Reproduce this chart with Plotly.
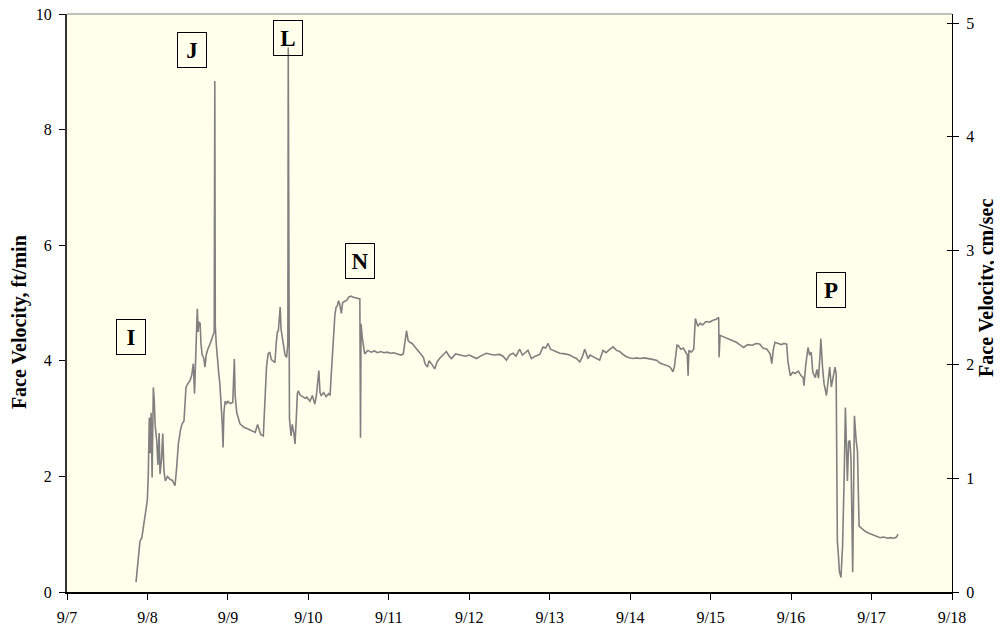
import plotly.graph_objects as go

# Time, day of September (fractional)
day = [7.858, 7.907, 7.93, 7.97, 7.998, 8.01, 8.023, 8.035, 8.045, 8.058, 8.065, 8.073, 8.085, 8.095,
       8.115, 8.13, 8.145, 8.156, 8.175, 8.19, 8.205, 8.222, 8.25, 8.28, 8.31, 8.33, 8.342, 8.36,
       8.384, 8.41, 8.43, 8.454, 8.479, 8.50, 8.53, 8.55, 8.57, 8.585, 8.60, 8.61, 8.62, 8.63, 8.64,
       8.655, 8.665, 8.68, 8.70, 8.715, 8.73, 8.75, 8.78, 8.81, 8.83, 8.837, 8.843, 8.855, 8.87,
       8.885, 8.90, 8.915, 8.93, 8.94, 8.95, 8.965, 8.985, 9.0, 9.03, 9.06, 9.07, 9.08, 9.09, 9.11,
       9.15, 9.20, 9.25, 9.30, 9.34, 9.358, 9.37, 9.39, 9.41, 9.44, 9.46, 9.48, 9.50, 9.52, 9.54,
       9.56, 9.585, 9.60, 9.615, 9.627, 9.64, 9.65, 9.66, 9.675, 9.69, 9.71, 9.73, 9.745, 9.75,
       9.755, 9.765, 9.785, 9.80, 9.82, 9.834, 9.85, 9.863, 9.875, 9.90, 9.93, 9.96, 9.98, 10.02,
       10.05, 10.08, 10.10, 10.115, 10.13, 10.145, 10.16, 10.19, 10.22, 10.25, 10.27, 10.28, 10.30,
       10.33, 10.345, 10.36, 10.375, 10.39, 10.41, 10.425, 10.45, 10.48, 10.50, 10.53, 10.56, 10.60,
       10.64, 10.648, 10.655, 10.67, 10.70, 10.74, 10.78, 10.82, 10.86, 10.90, 10.94, 10.98, 11.02,
       11.06, 11.10, 11.15, 11.18, 11.20, 11.22, 11.24, 11.26, 11.29, 11.32, 11.35, 11.40, 11.43,
       11.45, 11.48, 11.50, 11.53, 11.57, 11.60, 11.63, 11.68, 11.716, 11.75, 11.778, 11.83, 11.881,
       11.95, 12.0, 12.047, 12.09, 12.15, 12.213, 12.3, 12.379, 12.42, 12.462, 12.50, 12.544, 12.58,
       12.627, 12.66, 12.70, 12.73, 12.772, 12.82, 12.876, 12.917, 12.95, 12.979, 13.01, 13.04,
       13.08, 13.124, 13.19, 13.249, 13.30, 13.332, 13.373, 13.40, 13.435, 13.476, 13.50, 13.538,
       13.58, 13.621, 13.662, 13.70, 13.75, 13.787, 13.83, 13.87, 13.92, 13.953, 14.0, 14.035, 14.08,
       14.118, 14.18, 14.243, 14.29, 14.326, 14.37, 14.408, 14.45, 14.49, 14.51, 14.532, 14.55,
       14.582, 14.60, 14.63, 14.66, 14.69, 14.71, 14.72, 14.73, 14.76, 14.79, 14.81, 14.84, 14.87,
       14.90, 14.94, 14.99, 15.03, 15.07, 15.10, 15.105, 15.117, 15.15, 15.2, 15.25, 15.32, 15.36,
       15.41, 15.46, 15.52, 15.56, 15.61, 15.65, 15.70, 15.74, 15.76, 15.78, 15.80, 15.84, 15.88,
       15.91, 15.945, 15.96, 15.99, 16.02, 16.05, 16.09, 16.12, 16.15, 16.16, 16.18, 16.21, 16.23,
       16.25, 16.27, 16.30, 16.32, 16.34, 16.36, 16.37, 16.39, 16.41, 16.44, 16.46, 16.48, 16.50,
       16.52, 16.546, 16.56, 16.575, 16.59, 16.60, 16.62, 16.64, 16.66, 16.675, 16.70, 16.715, 16.73,
       16.745, 16.766, 16.787, 16.81, 16.825, 16.845, 16.88, 16.92, 16.96, 17.0, 17.05, 17.106,
       17.15, 17.2, 17.23, 17.28, 17.31, 17.33]

# Face velocity, ft/min
fpm = [0.17, 0.88, 0.94, 1.35, 1.58, 2.0, 3.02, 2.4, 3.1, 1.98, 3.2, 3.54, 3.3, 2.9,
       2.62, 2.2, 2.75, 2.04, 2.3, 2.74, 2.1, 1.92, 2.0, 1.95, 1.93, 1.87, 1.84, 2.1,
       2.56, 2.8, 2.91, 2.96, 3.54, 3.6, 3.66, 3.75, 3.95, 3.43, 3.9, 4.5, 4.9, 4.5, 4.67,
       4.65, 4.3, 4.1, 4.05, 3.89, 4.1, 4.2, 4.3, 4.41, 4.5, 8.84, 4.6, 4.3, 4.0,
       3.8, 3.6, 3.3, 2.9, 2.5, 3.1, 3.3, 3.26, 3.3, 3.26, 3.28, 3.6, 4.03, 3.4, 3.1,
       2.91, 2.85, 2.82, 2.78, 2.76, 2.85, 2.9, 2.8, 2.72, 2.7, 3.3, 3.9, 4.12, 4.15, 4.02,
       4.0, 3.97, 4.3, 4.5, 4.52, 4.7, 4.93, 4.55, 4.4, 4.3, 4.1, 4.06, 4.3, 9.42,
       4.0, 3.0, 2.70, 2.9, 2.75, 2.56, 3.0, 3.43, 3.48, 3.4, 3.38, 3.35, 3.37, 3.3,
       3.4, 3.25, 3.4, 3.6, 3.83, 3.45, 3.4, 3.45, 3.38, 3.43, 3.4, 3.66, 4.2,
       4.8, 4.93, 4.95, 5.04, 4.98, 4.82, 5.0, 5.03, 5.05, 5.1, 5.12, 5.1, 5.08,
       5.07, 2.67, 4.64, 4.4, 4.12, 4.18, 4.15, 4.17, 4.14, 4.16, 4.14, 4.15, 4.13,
       4.14, 4.12, 4.1, 4.12, 4.35, 4.52, 4.35, 4.32, 4.3, 4.25, 4.2, 4.1, 4.06,
       3.95, 3.89, 4.0, 3.95, 3.86, 3.98, 4.04, 4.1, 4.16, 4.08, 4.04, 4.12, 4.10,
       4.08, 4.1, 4.07, 4.04, 4.09, 4.13, 4.1, 4.11, 4.08, 4.01, 4.1, 4.13, 4.08,
       4.20, 4.10, 4.14, 4.18, 4.04, 4.08, 4.11, 4.24, 4.22, 4.30, 4.2, 4.18,
       4.15, 4.13, 4.12, 4.10, 4.06, 4.04, 3.98, 4.05, 4.20, 4.04, 4.1, 4.07,
       4.05, 4.01, 4.18, 4.14, 4.2, 4.24, 4.18, 4.16, 4.1, 4.07, 4.05, 4.04, 4.05,
       4.04, 4.05, 4.04, 4.02, 4.01, 3.96, 3.94, 3.92, 3.90, 3.86, 3.81, 3.9,
       4.27, 4.26, 4.2, 4.22, 4.15, 4.1, 3.74, 4.18, 4.15, 4.2, 4.73, 4.6, 4.65,
       4.62, 4.68, 4.67, 4.7, 4.72, 4.75, 4.06, 4.44, 4.42, 4.38, 4.35, 4.32, 4.28,
       4.23, 4.28, 4.27, 4.3, 4.29, 4.22, 4.2, 4.12, 3.95, 4.2, 4.32, 4.3, 4.28,
       4.3, 4.29, 4.0, 3.74, 3.8, 3.78, 3.82, 3.75, 3.71, 3.57, 3.9, 4.23, 4.1,
       4.15, 3.8, 3.71, 3.85, 3.7, 4.1, 4.38, 3.9, 3.6, 3.40, 3.6, 3.89, 3.55,
       3.7, 3.89, 3.78, 0.88, 0.6, 0.36, 0.25, 0.8, 2.0, 3.19, 1.92, 2.6, 2.62,
       2.3, 0.34, 3.05, 2.6, 2.44, 1.14, 1.09, 1.05, 1.02, 1.0, 0.97, 0.94,
       0.95, 0.93, 0.94, 0.93, 0.95, 1.0]

FT_MIN_TO_CM_S = 0.508
cms = [v * FT_MIN_TO_CM_S for v in fpm]

tick_days = list(range(7, 19))
tick_labels = ["9/%d" % d for d in tick_days]

labels = ["I", "J", "L", "N", "P"]
label_x = [7.80, 8.55, 9.75, 10.638, 16.497]
label_y = [4.41, 9.385, 9.58, 5.72, 5.23]

SERIF = "Times New Roman, Liberation Serif, serif"

fig = go.Figure()
fig.add_trace(go.Scatter(x=day, y=fpm, mode="lines",
                         line=dict(color="#808080", width=1.6),
                         showlegend=False, hoverinfo="x+y"))
# cm/sec copies (invisible) so the right-hand axes are drawn
for ax in ("y2", "y3"):
    fig.add_trace(go.Scatter(x=day, y=cms, mode="lines", yaxis=ax,
                             line=dict(color="rgba(0,0,0,0)", width=0),
                             showlegend=False, hoverinfo="skip"))

for t, x, y in zip(labels, label_x, label_y):
    fig.add_annotation(x=x, y=y, xref="x", yref="y", text="<b>%s</b>" % t,
                       showarrow=False, font=dict(family=SERIF, size=23, color="black"),
                       bordercolor="black", borderwidth=1, borderpad=1,
                       width=26, height=32, bgcolor="rgba(0,0,0,0)")

# axis titles
fig.add_annotation(x=-0.0542, y=0.467, xref="paper", yref="paper", xanchor="center", yanchor="middle",
                   text="<b>Face Velocity, ft/min</b>", textangle=-90, showarrow=False,
                   font=dict(family=SERIF, size=20, color="black"))
fig.add_annotation(x=1.0395, y=0.526, xref="paper", yref="paper", xanchor="center", yanchor="middle",
                   text="<b>Face Velocity, cm/sec</b>", textangle=-90, showarrow=False,
                   font=dict(family=SERIF, size=20, color="black"))

fig.add_shape(type="line", xref="paper", yref="paper", x0=0, x1=1, y0=1, y1=1,
              line=dict(color="#808080", width=1))

right_range = [0, 10 * FT_MIN_TO_CM_S]

fig.update_layout(
    width=994, height=623, autosize=False,
    margin=dict(l=59, r=50, t=6, b=39),
    paper_bgcolor="white", plot_bgcolor="#FFFFEB",
    font=dict(family=SERIF, size=16, color="black"),
    xaxis=dict(range=[7, 18], tickmode="array", tickvals=tick_days, ticktext=tick_labels,
               showgrid=False, zeroline=False, showline=True, linecolor="black", linewidth=1.5,
               ticks="outside", ticklen=6, tickcolor="black", tickfont=dict(size=16),
               ticklabelstandoff=4, ticklabeloverflow="allow", automargin=False),
    yaxis=dict(range=[0, 10], dtick=2, showgrid=False, zeroline=False, showline=True,
               linecolor="#333333", linewidth=2, ticks="outside", ticklen=6, tickcolor="black",
               tickfont=dict(size=16), ticklabelstandoff=4, ticklabeloverflow="allow",
               automargin=False),
    yaxis2=dict(range=right_range, dtick=1, overlaying="y", side="right",
                showgrid=False, zeroline=False, showline=True, linecolor="black", linewidth=1,
                ticks="outside", ticklen=6, tickcolor="black",
                tickfont=dict(size=16), ticklabelstandoff=4, ticklabeloverflow="allow",
                automargin=False),
    yaxis3=dict(range=right_range, dtick=1, overlaying="y", side="right",
                showgrid=False, zeroline=False, showline=False, showticklabels=False,
                ticks="inside", ticklen=5, tickcolor="black", automargin=False),
)

fig.write_html("out.html")
